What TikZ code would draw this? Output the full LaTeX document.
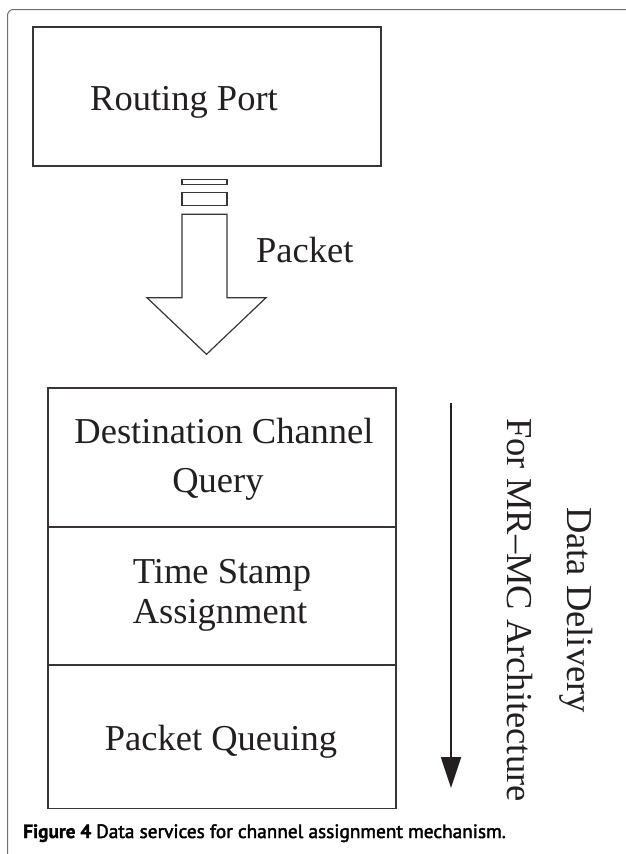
\documentclass[tikz,border=0pt]{standalone}
\usepackage{fontspec}
\setmainfont{Liberation Serif}
\newfontfamily\capfont[FakeBold=1.5]{PT Sans Bold}
\newfontfamily\capsemi[FakeBold=2.2]{PT Sans}
\usetikzlibrary{arrows.meta}
\definecolor{ink}{HTML}{231F20}
\definecolor{framegray}{HTML}{6D6E71}
\begin{document}
\begin{tikzpicture}[x=1pt,y=-1pt,
  boxline/.style={draw=ink!90, line width=1.2pt},
  blockbox/.style={boxline, rectangle, inner sep=0pt},
  label/.style={inner sep=0pt, text=ink, font=\fontsize{36.5}{40}\selectfont},
  vlabel/.style={label, rotate=-90, anchor=base}]
\useasboundingbox (0,0) rectangle (625,854);

% page frame with rounded top-left corner
\draw[framegray, line width=1pt, rounded corners=6pt] (7.5,870) -- (7.5,9.5) -- (640,9.5);

% routing port box
\node[blockbox, minimum width=348pt, minimum height=139pt] (port) at (207,96.5) {};
\node[label, anchor=base west] (porttext) at (90,110) {Routing Port};

% packet slices above the block arrow
\node[blockbox, minimum width=45pt, minimum height=5pt] (slice1) at (204.5,181.8) {};
\node[blockbox, minimum width=45pt, minimum height=13.4pt] (slice2) at (204.5,199) {};

% block arrow carrying the packet down
\draw[boxline, line join=miter] (182,214.3) -- (182,297.7) -- (147,297.7) -- (206.5,354.3)
  -- (266,297.7) -- (227,297.7) -- (227,214.3) -- cycle;
\node[label, anchor=base west] (packettext) at (256,262) {Packet};

% stacked service boxes
\node[blockbox, minimum width=348pt, minimum height=139pt] (query) at (222,457.5) {};
\node[blockbox, minimum width=348pt, minimum height=138pt] (stamp) at (222,596) {};
\node[blockbox, minimum width=348pt, minimum height=143.7pt] (queue) at (222,736.85) {};

\node[label, anchor=base] (querytext1) at (224,443) {Destination Channel};
\node[label, anchor=base] (querytext2) at (218,492) {Query};
\node[label, anchor=base] (stamptext1) at (222,583) {Time Stamp};
\node[label, anchor=base] (stamptext2) at (220,623) {Assignment};
\node[label, anchor=base] (queuetext) at (221,750) {Packet Queuing};

% delivery direction, with its two-line centred label
\coordinate (flowtop) at (451,403);
\coordinate (flowend) at (451,788);
\draw[ink, line width=1.8pt, -{Triangle[width=20pt,length=31pt]}] (flowtop) -- (flowend);
\node[vlabel] (deliverytext) at (567,610) {Data Delivery};
\node[vlabel] (archtext) at (507,610) {For MR--MC Architecture};

% caption
\node[anchor=base west, inner sep=0pt, text=black, font=\fontsize{19.3}{22}\selectfont] (caption) at (23,838)
  {{\capfont Figure 4} \capsemi Data services for channel assignment mechanism.};
\end{tikzpicture}
\end{document}
